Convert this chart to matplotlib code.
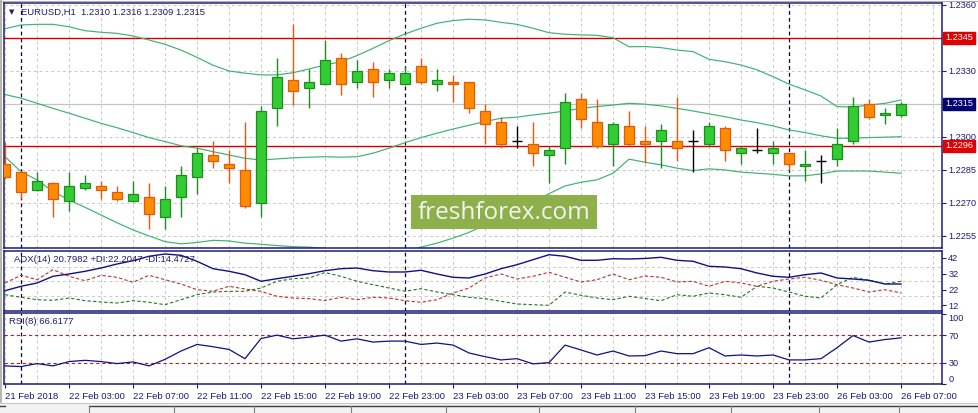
import matplotlib
matplotlib.use('Agg')
import matplotlib.pyplot as plt
import matplotlib.transforms as mtransforms
from matplotlib.patches import Rectangle
from matplotlib.lines import Line2D
import numpy as np

plt.rcParams['font.family'] = ['Liberation Sans', 'DejaVu Sans']
plt.rcParams['font.size'] = 6.6

# EURUSD H1, 21 Feb 23:00 .. 26 Feb 07:00
opens = np.array([1.22877, 1.22839, 1.22758, 1.22789, 1.22708, 1.22767, 1.22776, 1.22749, 1.22708, 1.22726,
                  1.22635, 1.22726, 1.22817, 1.22917, 1.22876, 1.22849, 1.22699, 1.23130, 1.23258, 1.23221,
                  1.23240, 1.23358, 1.23249, 1.23308, 1.23258, 1.23240, 1.23321, 1.23240, 1.23249, 1.23249,
                  1.23117, 1.23067, 1.22983, 1.22968, 1.22917, 1.22949, 1.23171, 1.23067, 1.22968, 1.23049,
                  1.22980, 1.22980, 1.22983, 1.22980, 1.22967, 1.23040, 1.22926, 1.22940, 1.22926, 1.22926,
                  1.22867, 1.22890, 1.22899, 1.22980, 1.23149, 1.23099, 1.23100])
highs = np.array([1.22979, 1.22840, 1.22840, 1.22797, 1.22840, 1.22826, 1.22798, 1.22776, 1.22798, 1.22789,
                  1.22776, 1.22867, 1.22948, 1.22980, 1.22940, 1.23067, 1.23140, 1.23358, 1.23514, 1.23308,
                  1.23440, 1.23380, 1.23349, 1.23340, 1.23308, 1.23321, 1.23358, 1.23308, 1.23280, 1.23251,
                  1.23149, 1.23090, 1.23049, 1.23067, 1.22958, 1.23199, 1.23199, 1.23171, 1.23067, 1.23117,
                  1.23049, 1.23058, 1.23180, 1.23030, 1.23067, 1.23049, 1.22958, 1.23040, 1.22980, 1.22928,
                  1.22940, 1.22917, 1.23040, 1.23180, 1.23171, 1.23130, 1.23160])
lows = np.array([1.22810, 1.22717, 1.22755, 1.22635, 1.22665, 1.22758, 1.22717, 1.22708, 1.22706, 1.22583,
                 1.22583, 1.22635, 1.22740, 1.22858, 1.22789, 1.22676, 1.22635, 1.23049, 1.23144, 1.23130,
                 1.23238, 1.23190, 1.23221, 1.23180, 1.23221, 1.23238, 1.23240, 1.23208, 1.23158, 1.23108,
                 1.22968, 1.22949, 1.22949, 1.22867, 1.22790, 1.22876, 1.23040, 1.22950, 1.22867, 1.22958,
                 1.22880, 1.22858, 1.22890, 1.22840, 1.22958, 1.22890, 1.22876, 1.22926, 1.22876, 1.22849,
                 1.22799, 1.22789, 1.22867, 1.22967, 1.23080, 1.23058, 1.23090])
closes = np.array([1.22817, 1.22749, 1.22798, 1.22717, 1.22776, 1.22789, 1.22758, 1.22717, 1.22740, 1.22649,
                   1.22717, 1.22826, 1.22926, 1.22890, 1.22858, 1.22685, 1.23117, 1.23271, 1.23208, 1.23248,
                   1.23349, 1.23240, 1.23299, 1.23249, 1.23290, 1.23290, 1.23249, 1.23258, 1.23240, 1.23130,
                   1.23058, 1.22968, 1.22983, 1.22926, 1.22940, 1.23158, 1.23080, 1.22959, 1.23058, 1.22967,
                   1.22967, 1.23030, 1.22950, 1.22980, 1.23049, 1.22940, 1.22949, 1.22940, 1.22949, 1.22876,
                   1.22876, 1.22890, 1.22967, 1.23140, 1.23090, 1.23108, 1.23150])

bb_upper = [1.23492, 1.23509, 1.23512, 1.23512, 1.23501, 1.23483, 1.23476, 1.23471, 1.23459, 1.23441,
            1.23421, 1.23395, 1.23362, 1.23326, 1.23300, 1.23290, 1.23282, 1.23282, 1.23292, 1.23309,
            1.23327, 1.23342, 1.23370, 1.23403, 1.23438, 1.23468, 1.23494, 1.23517, 1.23529, 1.23535,
            1.23532, 1.23521, 1.23512, 1.23494, 1.23474, 1.23467, 1.23464, 1.23462, 1.23451, 1.23410,
            1.23411, 1.23406, 1.23395, 1.23388, 1.23353, 1.23342, 1.23327, 1.23305, 1.23274, 1.23240,
            1.23214, 1.23186, 1.23138, 1.23136, 1.23145, 1.23153, 1.23168]
bb_mid = [1.23193, 1.23176, 1.23153, 1.23130, 1.23108, 1.23085, 1.23062, 1.23042, 1.23020, 1.22997,
          1.22979, 1.22960, 1.22949, 1.22933, 1.22918, 1.22903, 1.22895, 1.22900, 1.22905, 1.22908,
          1.22910, 1.22908, 1.22910, 1.22926, 1.22949, 1.22974, 1.22997, 1.23017, 1.23036, 1.23053,
          1.23070, 1.23085, 1.23090, 1.23100, 1.23108, 1.23118, 1.23130, 1.23138, 1.23145, 1.23153,
          1.23149, 1.23141, 1.23130, 1.23118, 1.23105, 1.23092, 1.23077, 1.23065, 1.23050, 1.23032,
          1.23020, 1.23005, 1.22994, 1.22994, 1.22997, 1.22999, 1.23001]
bb_lower = [1.22910, 1.22842, 1.22805, 1.22751, 1.22714, 1.22680, 1.22645, 1.22610, 1.22577, 1.22550,
            1.22524, 1.22514, 1.22520, 1.22530, 1.22527, 1.22517, 1.22512, 1.22506, 1.22501, 1.22499,
            1.22494, 1.22474, 1.22450, 1.22449, 1.22460, 1.22480, 1.22499, 1.22517, 1.22540, 1.22566,
            1.22600, 1.22649, 1.22668, 1.22706, 1.22742, 1.22777, 1.22794, 1.22805, 1.22835, 1.22899,
            1.22885, 1.22873, 1.22858, 1.22847, 1.22855, 1.22850, 1.22840, 1.22835, 1.22830, 1.22823,
            1.22823, 1.22832, 1.22845, 1.22845, 1.22845, 1.22840, 1.22835]

adx = [21.25, 24.04, 26.14, 30.39, 31.85, 33.56, 35.65, 38.19, 40.29, 43.08,
       44.54, 43.71, 39.91, 35.21, 33.56, 31.40, 27.22, 28.87, 30.39, 32.04,
       33.94, 35.21, 35.65, 33.94, 33.12, 33.12, 34.20, 31.85, 29.75, 29.31,
       31.85, 35.21, 37.75, 40.92, 44.09, 43.08, 40.54, 40.54, 41.56, 41.37,
       41.70, 42.44, 40.54, 39.91, 36.73, 36.29, 35.21, 32.48, 30.39, 29.75,
       31.40, 32.48, 29.31, 28.68, 27.85, 25.50, 25.50]
plus_di = [18.71, 17.06, 15.54, 15.16, 16.62, 14.91, 14.08, 13.45, 14.91, 13.89,
           12.37, 15.54, 18.71, 20.43, 20.87, 20.87, 22.96, 27.22, 28.87, 29.31,
           32.80, 30.39, 27.22, 25.06, 22.96, 20.87, 22.52, 20.43, 18.71, 17.06,
           16.18, 14.53, 12.81, 12.37, 11.99, 20.43, 18.33, 16.62, 15.54, 17.70,
           16.30, 14.91, 18.71, 17.70, 19.79, 18.71, 17.06, 24.04, 22.96, 20.43,
           17.70, 16.62, 25.06, 29.75, 27.85, 25.50, 27.22]
minus_di = [26.14, 31.02, 28.23, 34.58, 30.39, 27.60, 31.02, 29.75, 26.58, 31.02,
            28.23, 25.50, 21.89, 20.87, 24.04, 22.33, 20.87, 17.70, 16.62, 16.18,
            15.03, 17.06, 15.54, 17.06, 16.62, 14.91, 13.89, 15.54, 19.79, 22.96,
            29.31, 31.85, 28.68, 30.39, 32.93, 29.75, 26.77, 28.23, 31.85, 28.23,
            30.58, 29.75, 26.77, 27.22, 24.04, 27.22, 26.14, 24.04, 27.22, 28.68,
            29.75, 27.85, 25.06, 22.96, 20.43, 21.89, 19.79]
rsi = [25.7, 24.7, 29.0, 25.7, 31.9, 33.7, 31.9, 29.0, 31.4, 25.7,
       35.1, 47.1, 56.6, 53.3, 49.4, 36.1, 65.1, 70.0, 64.7, 67.1,
       70.0, 61.4, 64.7, 60.0, 61.4, 61.4, 56.6, 58.6, 55.7, 44.3,
       39.0, 34.3, 36.1, 28.6, 30.4, 55.7, 48.6, 41.4, 47.1, 40.0,
       40.4, 47.1, 43.3, 43.3, 51.9, 40.0, 41.4, 40.0, 41.4, 34.3,
       34.3, 36.1, 51.9, 69.4, 60.0, 63.7, 66.1]

time_labels = ['21 Feb 2018', '22 Feb 03:00', '22 Feb 07:00', '22 Feb 11:00', '22 Feb 15:00',
               '22 Feb 19:00', '22 Feb 23:00', '23 Feb 03:00', '23 Feb 07:00', '23 Feb 11:00',
               '23 Feb 15:00', '23 Feb 19:00', '23 Feb 23:00', '26 Feb 03:00', '26 Feb 07:00']
day_starts = [1, 25, 49]
price_ticks = [1.2255, 1.2270, 1.2285, 1.2300, 1.2315, 1.2330, 1.2345, 1.2360]
levels = [1.2345, 1.2296]
last_price = 1.2315
boxed = [(1.2345, '#e00000'), (1.2315, '#000070'), (1.2296, '#e00000')]

NAVY = '#1c1c78'
GRID = '#c8c8c8'
W, H = 979, 413

fig = plt.figure(figsize=(W / 100, H / 100), dpi=100)
fig.patch.set_facecolor('white')


def px_axes(x0, y0, x1, y1):
    return fig.add_axes([x0 / W, 1 - y1 / H, (x1 - x0) / W, (y1 - y0) / H])


ax = px_axes(4, 3, 942, 248)
ax_adx = px_axes(4, 251, 942, 311)
ax_rsi = px_axes(4, 313, 942, 384)

xs = np.arange(len(closes))
for a in (ax, ax_adx, ax_rsi):
    a.set_xlim(-0.0625, 58.56)
    for sp in a.spines.values():
        sp.set_color(NAVY)
        sp.set_linewidth(1.1)
    a.yaxis.tick_right()
    a.tick_params(axis='y', direction='out', length=3, width=0.8, color=NAVY,
                  labelcolor=NAVY, pad=1.5, labelsize=6.6)
    for k in range(0, 59, 2):
        a.axvline(k, color=GRID, ls=(0, (3, 3)), lw=0.7, zorder=0)
    for d in day_starts:
        a.axvline(d, color='#000030', ls=(0, (3, 2.5)), lw=0.9, zorder=1)
ax.set_xticks([])
ax_adx.set_xticks([])

# ---- main price panel
ax.set_ylim(1.22495, 1.23609)
ax.set_yticks(price_ticks)
boxed_vals = [round(v, 4) for v, _ in boxed]
ax.set_yticklabels(['' if round(p, 4) in boxed_vals else '%.4f' % p for p in price_ticks])
for p in price_ticks:
    ax.axhline(p, color=GRID, ls=(0, (3, 3)), lw=0.7, zorder=0)
ax.axhline(last_price, color='#c4c4c4', lw=0.9, zorder=0.5)
for lv in levels:
    ax.axhline(lv, color='#d40000', lw=1.0, zorder=1.2)

ax.plot(xs, bb_upper, color='#3cb371', lw=0.85, zorder=1.5)
ax.plot(xs, bb_mid, color='#3cb371', lw=0.85, zorder=1.5)
ax.plot(xs, bb_lower, color='#3cb371', lw=0.85, zorder=1.5)

bull = closes > opens
bear = closes < opens
doji = closes == opens
ax.vlines(xs[bull], lows[bull], highs[bull], color='#1e8c1e', lw=1.0, zorder=2)
ax.bar(xs[bull], closes[bull] - opens[bull], bottom=opens[bull], width=0.66,
       color='#32cd32', edgecolor='#1e8c1e', lw=0.9, zorder=3)
ax.vlines(xs[bear], lows[bear], highs[bear], color='#e2580c', lw=1.0, zorder=2)
ax.bar(xs[bear], opens[bear] - closes[bear], bottom=closes[bear], width=0.66,
       color='#ff8c00', edgecolor='#e2580c', lw=0.9, zorder=3)
ax.vlines(xs[doji], lows[doji], highs[doji], color='black', lw=1.0, zorder=3)
ax.hlines(closes[doji], xs[doji] - 0.33, xs[doji] + 0.33, color='black', lw=1.0, zorder=3)

trans = mtransforms.blended_transform_factory(ax.transAxes, ax.transData)
for val, fc in boxed:
    ax.text(1.0 + 3 / 938, val, '%.4f' % val, transform=trans, ha='left', va='center',
            color='white', fontsize=6.6, clip_on=False, zorder=10,
            bbox=dict(boxstyle='square,pad=0.18', fc=fc, ec=fc))

fig.text(9 / W, 1 - 12 / H, '\u25bc', color=NAVY, fontsize=5, va='center',
         family=['DejaVu Sans'])
fig.text(21 / W, 1 - 12 / H, 'EURUSD,H1  1.2310 1.2316 1.2309 1.2315', color=NAVY,
         fontsize=6.8, va='center')

# watermark
fig.patches.append(Rectangle((411 / W, 1 - 229 / H), 186 / W, 34 / H, transform=fig.transFigure,
                             facecolor='#8db04a', edgecolor='none', zorder=5))
fig.text(504 / W, 1 - 213 / H, 'freshforex.com', color='#f4f4f4', fontsize=17.5,
         ha='center', va='center', family=['Open Sans', 'DejaVu Sans'], zorder=6)

# ---- ADX panel
ax_adx.set_ylim(8.37, 46.44)
ax_adx.set_yticks([12, 22, 32, 42])
ax_adx.set_yticklabels(['12', '22', '32', '42'])
for g in (17.6, 27.1, 36.6):
    ax_adx.axhline(g, color=GRID, ls=(0, (3, 3)), lw=0.7, zorder=0)
ax_adx.plot(xs, minus_di, color='#c0302b', lw=0.8, ls=(0, (3, 2)), zorder=2)
ax_adx.plot(xs, plus_di, color='#1e7a1e', lw=0.8, ls=(0, (3, 2)), zorder=2)
ax_adx.plot(xs, adx, color='#10108a', lw=1.0, zorder=3)
ax_adx.text(10 / 938, 1 - 9 / 60, 'ADX(14) 20.7982 +DI:22.2047 -DI:14.4727', transform=ax_adx.transAxes,
            color=NAVY, fontsize=6.8, va='center', zorder=5)

# ---- RSI panel
ax_rsi.set_ylim(-0.4, 101.9)
ax_rsi.set_yticks([0, 30, 70, 100])
ax_rsi.set_yticklabels(['0', '30', '70', '100'])
ylabs = ax_rsi.get_yticklabels()
ylabs[0].set_va('bottom')
ylabs[3].set_va('top')
for lv in (30, 70):
    ax_rsi.axhline(lv, color='#b82020', ls=(0, (3, 2.5)), lw=0.8, zorder=1)
ax_rsi.plot(xs, rsi, color='#10108a', lw=0.9, zorder=3)
ax_rsi.text(5 / 938, 1 - 9 / 71, 'RSI(8) 66.6177', transform=ax_rsi.transAxes,
            color=NAVY, fontsize=6.8, va='center', zorder=5)

ax_rsi.set_xticks(list(range(0, 57, 4)))
ax_rsi.set_xticklabels(time_labels)
ax_rsi.tick_params(axis='x', direction='out', length=3, width=0.8, color=NAVY,
                   labelcolor=NAVY, pad=2.5, labelsize=6.8)
for lab in ax_rsi.get_xticklabels():
    lab.set_ha('left')

# window chrome
fig.add_artist(Line2D([1.5 / W, 1.5 / W], [1 - 402 / H, 1], color='#a8a8a8', lw=1.2))
fig.add_artist(Line2D([0, 1], [1 - 0.5 / H, 1 - 0.5 / H], color='#b0b0b0', lw=0.8))
fig.patches.append(Rectangle((0, 0), 1, 10 / H, transform=fig.transFigure,
                             facecolor='#f2f2f2', edgecolor='none'))
fig.add_artist(Line2D([0, 1], [1 - 402.5 / H, 1 - 402.5 / H], color='#c8c8c8', lw=0.8))
fig.add_artist(Line2D([89 / W, 1], [1 - 406 / H, 1 - 406 / H], color='#404040', lw=1.0))
fig.add_artist(Line2D([0, 5 / W], [1 - 406 / H, 1 - 406 / H], color='#404040', lw=1.0))
for tx in [89, 174, 254, 351, 446, 539, 635, 731, 819, 899]:
    fig.add_artist(Line2D([tx / W, tx / W], [0, 1 - 406 / H], color='#808080', lw=0.8))

fig.savefig('out.png', dpi=100)
